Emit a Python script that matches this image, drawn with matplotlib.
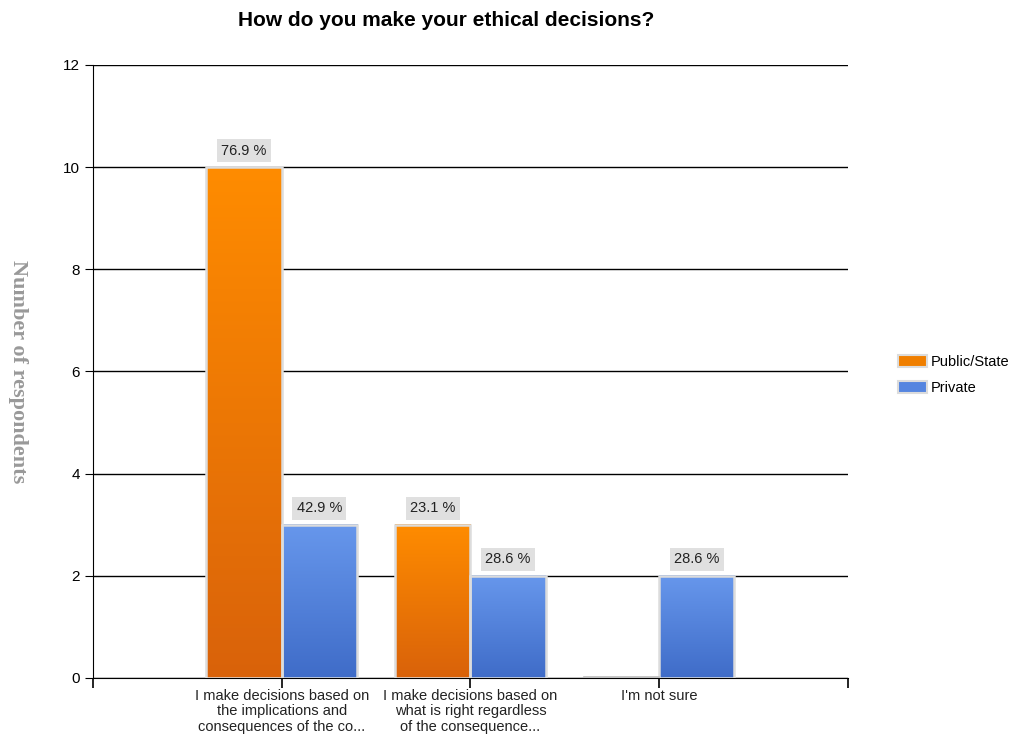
import matplotlib
matplotlib.use('Agg')
import matplotlib.pyplot as plt
from matplotlib.colors import LinearSegmentedColormap
from matplotlib.patches import Patch
import numpy as np

plt.rcParams['font.family'] = ['Liberation Sans', 'DejaVu Sans']

# data
categories = ['I make decisions based on\nthe implications and\nconsequences of the co...',
              'I make decisions based on\nwhat is right regardless\nof the consequence...',
              "I'm not sure"]
public_vals = [10, 3, 0]
private_vals = [3, 2, 2]
public_pct = ['76.9 %', '23.1 %', '']
private_pct = ['42.9 %', '28.6 %', '28.6 %']
series = ['Public/State', 'Private']

orange_cm = LinearSegmentedColormap.from_list('o', ['#d9620a', '#ff8c00'])
blue_cm = LinearSegmentedColormap.from_list('b', ['#3f6cc8', '#6797ec'])

fig = plt.figure(figsize=(10.13, 7.35), dpi=100)
ax = fig.add_axes([0.0918, 0.0776, 0.745, 0.834])

x = np.arange(len(categories))
w = 0.4
b1 = ax.bar(x - w / 2, public_vals, w, color='none', edgecolor='#dcdcdc', linewidth=1.8, zorder=4)
b2 = ax.bar(x + w / 2, private_vals, w, color='none', edgecolor='#dcdcdc', linewidth=1.8, zorder=4)

grad = np.linspace(0, 1, 256).reshape(-1, 1)
for bars, cm in ((b1, orange_cm), (b2, blue_cm)):
    for p in bars:
        x0, y0 = p.get_x(), p.get_y()
        h = p.get_height()
        if h <= 0:
            # zero bar shows as a thin grey line on the baseline
            ax.plot([x0, x0 + p.get_width()], [0.01, 0.01], color='#bbbbbb', lw=1.2, zorder=5)
            continue
        ax.imshow(grad, cmap=cm, origin='lower', aspect='auto',
                  extent=(x0, x0 + p.get_width(), y0, y0 + h), zorder=3)

def add_labels(bars, labels):
    for p, lab in zip(bars, labels):
        if not lab:
            continue
        ax.text(p.get_x() + p.get_width() / 2, p.get_height() + 0.32, lab,
                ha='center', va='center', fontsize=10.5, color='#222222', zorder=6,
                bbox=dict(boxstyle='square,pad=0.3', fc='#e0e0e0', ec='none'))

add_labels(b1, public_pct)
add_labels(b2, private_pct)

ax.set_xlim(-1, 3)
ax.set_ylim(0, 12)
ax.set_yticks(range(0, 13, 2))
ax.set_xticks(x)
ax.set_xticks([-1, 3], minor=True)
ax.set_xticklabels(categories, fontsize=10.5, color='#222222', linespacing=1.12)
ax.tick_params(axis='y', labelsize=11, direction='out', length=6, color='black')
ax.tick_params(axis='x', which='both', direction='out', length=7, color='black',
               width=1.2, pad=1)
ax.yaxis.grid(True, color='black', linewidth=1.0, zorder=1)
ax.set_axisbelow(True)
for s in ('top', 'right'):
    ax.spines[s].set_visible(False)

ax.set_ylabel('Number of respondents', fontsize=16, color='#999999',
              family='Liberation Serif', fontweight='bold', rotation=-90)
ax.yaxis.set_label_coords(-0.113, 0.5)

fig.text(0.44, 0.972, 'How do you make your ethical decisions?', fontsize=15,
         fontweight='bold', ha='center', va='center')

handles = [Patch(facecolor='#f07f00', edgecolor='#dcdcdc', linewidth=1.5),
           Patch(facecolor='#5585e0', edgecolor='#dcdcdc', linewidth=1.5)]
fig.legend(handles, series, loc='center left', bbox_to_anchor=(0.886, 0.49),
           frameon=False, fontsize=10.5, handlelength=2.0, handleheight=0.9,
           handletextpad=0.3, labelspacing=0.8, borderpad=0, borderaxespad=0)

fig.savefig('out.png', dpi=100)
